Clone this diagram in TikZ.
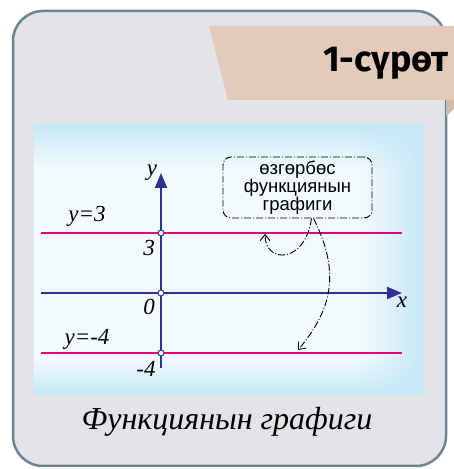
\documentclass[tikz,border=0pt]{standalone}
\usepackage{fontspec}
\setmainfont{Liberation Serif}
\newfontfamily\notefont{Liberation Sans}
\newfontfamily\tabfont{Fira Sans}
\usetikzlibrary{positioning, arrows.meta, fadings}
\definecolor{panelgray}{HTML}{E2E4E8}
\definecolor{panelrim}{HTML}{6E8590}
\definecolor{tabbeige}{HTML}{E4CABA}
\definecolor{plotblue}{HTML}{C6E8F7}
\definecolor{plotwhite}{HTML}{F3FAFD}
\definecolor{axisblue}{HTML}{2E3192}
\definecolor{fmagenta}{HTML}{E5007E}
\tikzfading[name=fade in right, left color=transparent!100, right color=transparent!0]
\tikzset{
  axisline/.style={line width=2pt, draw=axisblue,
                   -{Triangle[length=15pt, width=12pt]}},
  fline/.style={line width=2pt, draw=fmagenta},
  dot/.style={circle, draw=axisblue, fill=white, line width=1pt,
              inner sep=0pt, minimum size=6pt},
  lbl/.style={font=\fontsize{23}{26}\selectfont\itshape, inner sep=0pt},
  note/.style={draw=black, rounded corners=8pt, line width=0.9pt,
               dash pattern=on 7pt off 2pt on 1pt off 2pt,
               minimum width=149pt, minimum height=61pt, align=center,
               font=\notefont\fontsize{18.5}{18}\selectfont},
  curvy/.style={line width=0.9pt, dash pattern=on 7pt off 2pt on 1pt off 2pt,
                -{Straight Barb[length=6pt, width=10pt]}},
}
\begin{document}
\begin{tikzpicture}[x=1pt, y=1pt]
    \useasboundingbox (0,0) rectangle (454,469);
    % panel and tab
    \draw[fill=panelgray, draw=panelrim, line width=2.5pt, rounded corners=30pt]
          (13,3) rectangle (446,458);
    \fill[tabbeige] (209,443) -- (454,443) -- (454,369) -- (228,369) -- cycle;
    \fill[tabbeige!92!black] (446,369) -- (454,369) -- (454,360) -- (446,353) -- cycle;
    \node[anchor=base east, inner sep=0pt,
          font=\tabfont\bfseries\fontsize{36}{36}\selectfont] (title) at (449,397) {1-сүрөт};
    % plot area
    \fill[plotwhite] (34,74) rectangle (424,344);
    \shade[top color=plotblue, bottom color=plotwhite] (34,300) rectangle (424,344);
    \shade[top color=plotwhite, bottom color=plotblue] (34,74) rectangle (424,112);
    \fill[plotblue, path fading=fade in right] (360,74) rectangle (424,344);
    % lines and axes
    \coordinate (l3s) at (41,236);  \coordinate (l3e) at (402,236);
    \coordinate (l4s) at (41,116);  \coordinate (l4e) at (402,116);
    \coordinate (xs) at (41,176);   \coordinate (xe) at (402,176);
    \coordinate (ys) at (161,101);  \coordinate (ye) at (161,296);
    \draw[fline] (l3s) -- (l3e);
    \draw[fline] (l4s) -- (l4e);
    \draw[axisline] (xs) -- (xe);
    \draw[axisline] (ys) -- (ye);
    \node[dot] (p3) at (161,236) {};
    \node[dot] (p0) at (161,176) {};
    \node[dot] (p4) at (161,116) {};
    % labels
    \node[lbl, anchor=base] (ly) at (152,293) {y};
    \node[lbl, anchor=base] (lx) at (402,161) {x};
    \node[lbl, anchor=base] (ly3) at (87,247) {y=3};
    \node[lbl, anchor=base] (l3) at (149,213) {3};
    \node[lbl, anchor=base] (l0) at (149,154) {0};
    \node[lbl, anchor=base] (ly4) at (87,124) {y=-4};
    \node[lbl, anchor=base] (l4) at (146,92) {-4};
    % note with arrows
    \node[note] (nb) at (297.5,281.5) {өзгөрбөс\\функциянын\\графиги};
    \coordinate (t3) at (265,235);
    \coordinate (t4) at (298,119);
    \draw[curvy] ([xshift=14pt]nb.south) to[out=262, in=270, out distance=46pt, in distance=30pt] (t3);
    \draw[curvy] ([xshift=16pt]nb.south) to[out=297, in=50, out distance=63pt, in distance=50pt] (t4);
    % caption
    \node[anchor=base, inner sep=0pt, font=\itshape\fontsize{32}{34}\selectfont] (cap)
          at (227,39) {Функциянын графиги};
\end{tikzpicture}
\end{document}
